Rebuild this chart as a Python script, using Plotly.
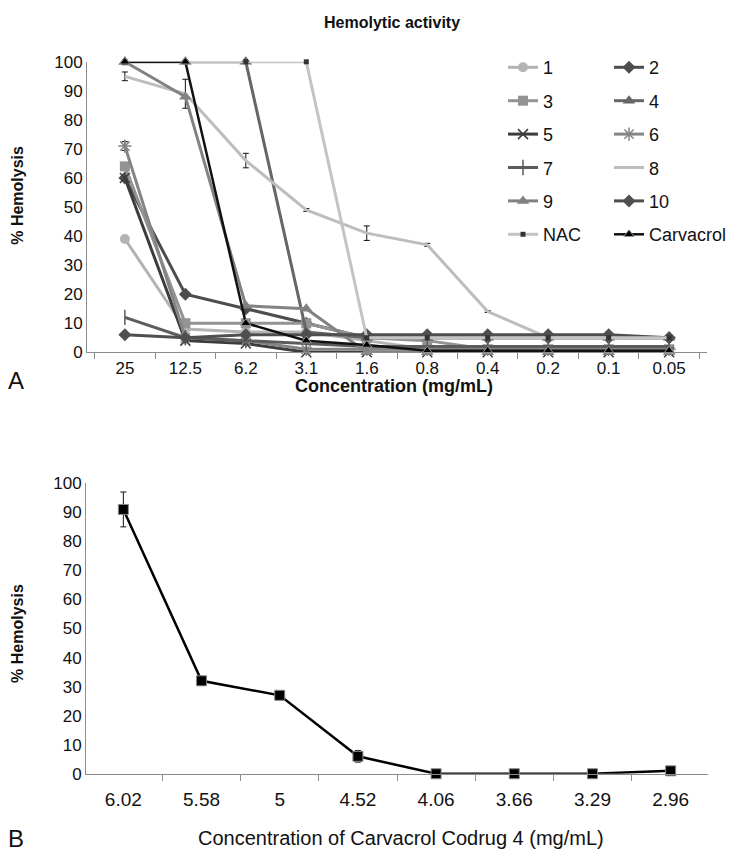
import plotly.graph_objects as go

# ---------------- data (top panel) ----------------
conc_top = ["25", "12.5", "6.2", "3.1", "1.6", "0.8", "0.4", "0.2", "0.1", "0.05"]
s1 = [39, 8, 7, 7, 4, 1, 1, 1, 1, 1]
s2 = [60, 20, 15, 10, 5, 5, 5, 5, 5, 5]
s3 = [64, 10, 10, 10, 5, 4, 1, 1, 1, 1]
s4 = [100, 100, 100, 7, 5, 5, 5, 5, 5, 5]
s5 = [60, 4, 3, 0, 0, 0, 0, 0, 0, 0]
s6 = [71, 5, 4, 1, 1, 1, 1, 1, 1, 1]
s7 = [12, 5, 4, 3, 2, 2, 2, 2, 2, 2]
s8 = [95, 89, 66, 49, 41, 37, 14, 5, 5, 5]
s8_err = [1.5, 5, 2.5, 0.5, 2.5, 0.5, 0.3, 0.3, 0.3, 0.3]
s9 = [100, 88, 16, 15, 0, 0, 0, 0, 0, 0]
s10 = [6, 5, 6, 6, 6, 6, 6, 6, 6, 5]
nac = [100, 100, 100, 100, 5, 5, 5, 5, 5, 5]
carvacrol = [100, 100, 10, 4, 2.5, 0.5, 0.5, 0.5, 0.5, 0.5]

# ---------------- data (bottom panel) ----------------
conc_bottom = ["6.02", "5.58", "5", "4.52", "4.06", "3.66", "3.29", "2.96"]
codrug4 = [91, 32, 27, 6, 0, 0, 0, 1]
codrug4_err = [6, 1.5, 1.5, 2, 0.5, 0.3, 0.3, 0.3]

W, H = 743, 861
FONT = "Liberation Sans, Arial, sans-serif"

fig = go.Figure()

def add(name, y, color, symbol=None, msize=9, mcolor=None, mline=None, legend="legend",
        width=3, err=None, rank=0):
    mode = "lines+markers" if symbol else "lines"
    tr = go.Scatter(
        x=conc_top, y=y, name=name, mode=mode, xaxis="x", yaxis="y",
        line=dict(color=color, width=width),
        legend=legend, legendgroup=name, legendrank=rank, cliponaxis=False,
    )
    if symbol:
        tr.marker = dict(symbol=symbol, size=msize, color=mcolor or color,
                         line=mline or dict(width=0, color=mcolor or color))
    if err is not None:
        tr.error_y = dict(type="data", array=err, visible=True, color="#111",
                          thickness=1, width=3)
    fig.add_trace(tr)

add("1", s1, "#b3b3b3", "circle", 10, legend="legend", rank=1)
add("2", s2, "#4d4d4d", "diamond", 10, legend="legend2", rank=1)
add("3", s3, "#939393", "square", 10, legend="legend", rank=2)
add("4", s4, "#666666", "triangle-up", 11, legend="legend2", rank=2)
add("5", s5, "#3c3c3c", "x-thin-open", 10, mline=dict(width=1.5, color="#777"),
    legend="legend", rank=3)
add("6", s6, "#858585", "asterisk-open", 11, mline=dict(width=1.5, color="#999"),
    legend="legend2", rank=3,
    err=[1.5, 0, 0, 0, 0, 0, 0, 0, 0, 0])
add("7", s7, "#5c5c5c", "line-ns-open", 11, mline=dict(width=1.5, color="#666"),
    legend="legend", rank=4)
add("8", s8, "#bdbdbd", None, legend="legend2", rank=4, err=s8_err)
add("9", s9, "#828282", "triangle-up", 11, legend="legend", rank=5)
add("10", s10, "#4f4f4f", "diamond", 10, legend="legend2", rank=5)
add("NAC", nac, "#c4c4c4", "square", 5, mcolor="#333333", legend="legend", rank=6)
add("Carvacrol", carvacrol, "#111111", "triangle-up", 9, mcolor="#000000",
    mline=dict(width=1, color="#999"), legend="legend2", rank=6, width=2.5,
    err=[1, 0, 0, 0, 0, 0, 0, 0, 0, 0])

fig.add_trace(go.Scatter(
    x=conc_bottom, y=codrug4, mode="lines+markers", xaxis="x2", yaxis="y2",
    line=dict(color="#000", width=2.5),
    marker=dict(symbol="square", size=10, color="#000", line=dict(width=1, color="#888")),
    error_y=dict(type="data", array=codrug4_err, visible=True, color="#111",
                 thickness=1, width=3),
    showlegend=False, cliponaxis=False,
))

def axis(**kw):
    d = dict(showgrid=False, zeroline=False, showline=True, linecolor="#8c8c8c",
             linewidth=1, tickfont=dict(family=FONT, size=17, color="#111"),
             ticks="outside", tickcolor="#8c8c8c", ticklen=6, fixedrange=True)
    d.update(kw)
    return d

fig.update_layout(
    width=W, height=H, margin=dict(l=0, r=0, t=0, b=0),
    paper_bgcolor="white", plot_bgcolor="white",
    font=dict(family=FONT, color="#111"),
    xaxis=axis(domain=[87 / W, 707 / W], anchor="y", type="category",
               tickson="boundaries"),
    yaxis=axis(domain=[1 - 351 / H, 1 - 54 / H], anchor="x", range=[0, 100],
               dtick=10, ticklen=0),
    xaxis2=axis(domain=[86 / W, 708 / W], anchor="y2", type="category",
                tickson="boundaries", ticklabelstandoff=8,
                tickfont=dict(family=FONT, size=19, color="#111")),
    yaxis2=axis(domain=[1 - 782 / H, 1 - 485 / H], anchor="x2", range=[0, 100],
                dtick=10, ticklen=0),
    legend=dict(x=503 / W, y=1 - 41 / H, xanchor="left", yanchor="top",
                font=dict(family=FONT, size=18, color="#111"), itemwidth=30,
                tracegroupgap=7, bgcolor="rgba(0,0,0,0)"),
    legend2=dict(x=609 / W, y=1 - 41 / H, xanchor="left", yanchor="top",
                 font=dict(family=FONT, size=18, color="#111"), itemwidth=30,
                 tracegroupgap=7, bgcolor="rgba(0,0,0,0)"),
    showlegend=True,
)

ann = [
    dict(text="<b>Hemolytic activity</b>", x=392, y=14, size=16),
    dict(text="<b>Concentration (mg/mL)</b>", x=394, y=386, size=18),
    dict(text="<b>% Hemolysis</b>", x=18, y=191, size=16, angle=-90),
    dict(text="<b>% Hemolysis</b>", x=18, y=639, size=16, angle=-90),
    dict(text="Concentration of Carvacrol Codrug 4 (mg/mL)", x=401, y=848, size=20),
    dict(text="A", x=16, y=380, size=24),
    dict(text="B", x=16, y=848, size=24),
]
for a in ann:
    fig.add_annotation(text=a["text"], x=a["x"] / W, y=1 - a["y"] / H, xref="paper",
                       yref="paper", showarrow=False, xanchor="center", yanchor="middle",
                       textangle=a.get("angle", 0),
                       font=dict(family=FONT, size=a["size"], color="#111"))

fig.write_html("out.html", config={"displayModeBar": False},
               post_script="document.body.style.margin='0';document.body.style.padding='0';")
